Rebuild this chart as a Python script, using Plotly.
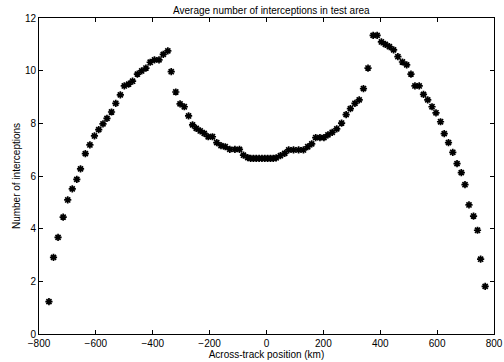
import plotly.graph_objects as go

# Across-track position (km) and average number of interceptions
position_km = [
    -765, -749, -733, -715, -699, -683, -667, -654, -637, -621,
    -605, -590, -575, -561, -545, -530, -514, -500, -485, -471,
    -454, -439, -424, -409, -394, -378, -363, -347, -335, -319,
    -304, -289, -274, -260, -247, -233, -219, -205, -190, -175,
    -160, -145, -129, -111, -95, -81, -66, -56, -46, -36,
    -26, -16, -6, 4, 14, 24, 34, 49, 64, 78,
    95, 113, 130, 145, 159, 173, 188, 202, 216, 231,
    247, 264, 280, 295, 311, 326, 341, 357, 375, 389,
    404, 418, 432, 447, 462, 478, 493, 508, 522, 537,
    552, 567, 582, 596, 612, 625, 640, 655, 670, 685,
    698, 712, 728, 742, 753, 769,
]
interceptions = [
    1.23, 2.91, 3.67, 4.44, 5.09, 5.51, 5.87, 6.27, 6.85, 7.18,
    7.52, 7.76, 7.98, 8.19, 8.43, 8.76, 9.08, 9.42, 9.49, 9.60,
    9.87, 9.99, 10.10, 10.32, 10.41, 10.41, 10.62, 10.75, 9.96, 9.19,
    8.74, 8.63, 8.28, 7.94, 7.81, 7.71, 7.62, 7.49, 7.49, 7.27,
    7.15, 7.11, 7.01, 7.01, 7.01, 6.79, 6.70, 6.67, 6.67, 6.67,
    6.67, 6.67, 6.67, 6.67, 6.67, 6.67, 6.69, 6.77, 6.86, 6.99,
    6.99, 6.99, 6.99, 7.11, 7.22, 7.46, 7.46, 7.46, 7.56, 7.66,
    7.79, 8.01, 8.33, 8.56, 8.76, 8.89, 9.32, 10.10, 11.34, 11.34,
    11.09, 11.00, 10.91, 10.79, 10.53, 10.33, 10.22, 9.87, 9.42, 9.42,
    9.10, 8.89, 8.63, 8.40, 8.06, 7.61, 7.27, 6.90, 6.47, 6.13,
    5.67, 4.90, 4.48, 3.94, 2.84, 1.81,
]

x_tick_vals = [-800, -600, -400, -200, 0, 200, 400, 600, 800]
x_tick_text = ["\u2212800", "\u2212600", "\u2212400", "\u2212200", "0", "200", "400", "600", "800"]
y_tick_vals = [0, 2, 4, 6, 8, 10, 12]
y_tick_text = ["0", "2", "4", "6", "8", "10", "12"]

FONT = "Liberation Sans, Arial, Helvetica, sans-serif"

fig = go.Figure()
fig.add_trace(go.Scatter(
    x=position_km, y=interceptions, mode="markers",
    marker=dict(symbol="asterisk-open", size=6, color="black",
                line=dict(color="black", width=1.7)),
    showlegend=False,
))

axis_common = dict(
    showline=True, linecolor="black", linewidth=1, mirror="allticks",
    ticks="inside", ticklen=4, tickcolor="black", tickwidth=1,
    showgrid=False, zeroline=False, ticklabeloverflow="allow",
    tickfont=dict(family=FONT, size=10, color="black"),
)

fig.update_layout(
    width=504, height=362,
    margin=dict(l=39, r=1, t=18, b=28),
    paper_bgcolor="white", plot_bgcolor="white",
    font=dict(family=FONT, size=10, color="black"),
    xaxis=dict(range=[-800, 800], tickvals=x_tick_vals, ticktext=x_tick_text,
               title=dict(text="Across-track position (km)", standoff=2,
                          font=dict(family=FONT, size=10, color="black")),
               **axis_common),
    yaxis=dict(range=[0, 12], tickvals=y_tick_vals, ticktext=y_tick_text,
               title=dict(text="Number of interceptions", standoff=2,
                          font=dict(family=FONT, size=10, color="black")),
               **axis_common),
    annotations=[dict(
        text="Average number of interceptions in test area",
        xref="paper", yref="paper", x=0.51, y=1.024,
        xanchor="center", yanchor="middle", showarrow=False,
        font=dict(family=FONT, size=10, color="black"),
    )],
)

fig.write_html("out.html")
